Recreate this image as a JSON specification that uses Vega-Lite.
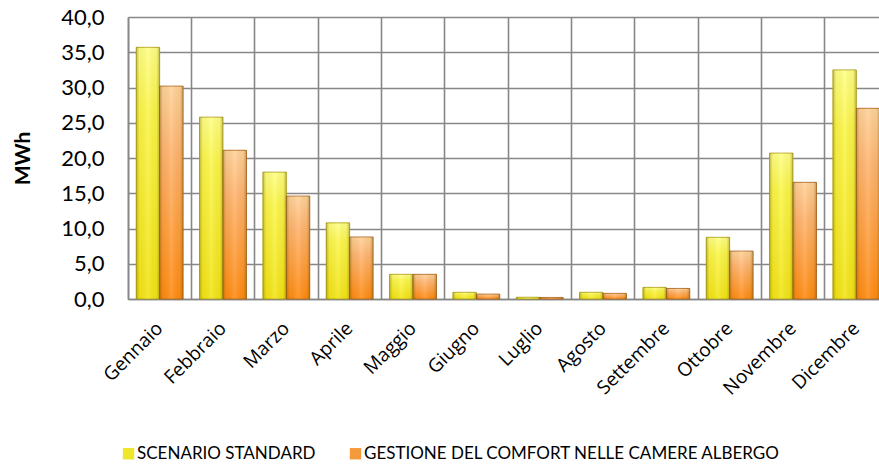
{
  "$schema": "https://vega.github.io/schema/vega-lite/v6.json",
  "autosize": "none",
  "width": 751,
  "height": 282,
  "padding": {"left": 128, "top": 17, "right": 0, "bottom": 168},
  "background": "white",
  "config": {
    "view": {"stroke": null},
    "axis": {"gridColor": "#878787", "gridWidth": 1.6, "gridOpacity": 1, "domainColor": "#878787", "domainWidth": 1.6}
  },
  "data": {
    "values": [
      {"mese": "Gennaio", "scenario": "SCENARIO STANDARD", "mwh": 35.7},
      {"mese": "Gennaio", "scenario": "GESTIONE DEL COMFORT NELLE CAMERE ALBERGO", "mwh": 30.2},
      {"mese": "Febbraio", "scenario": "SCENARIO STANDARD", "mwh": 25.8},
      {"mese": "Febbraio", "scenario": "GESTIONE DEL COMFORT NELLE CAMERE ALBERGO", "mwh": 21.1},
      {"mese": "Marzo", "scenario": "SCENARIO STANDARD", "mwh": 18.0},
      {"mese": "Marzo", "scenario": "GESTIONE DEL COMFORT NELLE CAMERE ALBERGO", "mwh": 14.6},
      {"mese": "Aprile", "scenario": "SCENARIO STANDARD", "mwh": 10.8},
      {"mese": "Aprile", "scenario": "GESTIONE DEL COMFORT NELLE CAMERE ALBERGO", "mwh": 8.8},
      {"mese": "Maggio", "scenario": "SCENARIO STANDARD", "mwh": 3.5},
      {"mese": "Maggio", "scenario": "GESTIONE DEL COMFORT NELLE CAMERE ALBERGO", "mwh": 3.5},
      {"mese": "Giugno", "scenario": "SCENARIO STANDARD", "mwh": 0.95},
      {"mese": "Giugno", "scenario": "GESTIONE DEL COMFORT NELLE CAMERE ALBERGO", "mwh": 0.7},
      {"mese": "Luglio", "scenario": "SCENARIO STANDARD", "mwh": 0.25},
      {"mese": "Luglio", "scenario": "GESTIONE DEL COMFORT NELLE CAMERE ALBERGO", "mwh": 0.22},
      {"mese": "Agosto", "scenario": "SCENARIO STANDARD", "mwh": 0.95},
      {"mese": "Agosto", "scenario": "GESTIONE DEL COMFORT NELLE CAMERE ALBERGO", "mwh": 0.8},
      {"mese": "Settembre", "scenario": "SCENARIO STANDARD", "mwh": 1.65},
      {"mese": "Settembre", "scenario": "GESTIONE DEL COMFORT NELLE CAMERE ALBERGO", "mwh": 1.5},
      {"mese": "Ottobre", "scenario": "SCENARIO STANDARD", "mwh": 8.75},
      {"mese": "Ottobre", "scenario": "GESTIONE DEL COMFORT NELLE CAMERE ALBERGO", "mwh": 6.8},
      {"mese": "Novembre", "scenario": "SCENARIO STANDARD", "mwh": 20.7},
      {"mese": "Novembre", "scenario": "GESTIONE DEL COMFORT NELLE CAMERE ALBERGO", "mwh": 16.55},
      {"mese": "Dicembre", "scenario": "SCENARIO STANDARD", "mwh": 32.5},
      {"mese": "Dicembre", "scenario": "GESTIONE DEL COMFORT NELLE CAMERE ALBERGO", "mwh": 27.05}
    ]
  },
  "encoding": {
    "x": {
      "field": "mese",
      "type": "nominal",
      "sort": null,
      "scale": {"range": [0, 760], "paddingInner": 0, "paddingOuter": 0},
      "axis": {
        "title": null,
        "bandPosition": 0,
        "grid": true,
        "ticks": false,
        "domain": true,
        "labelAngle": -45,
        "labelAlign": "right",
        "labelBaseline": "middle",
        "labelPadding": 26,
        "labelFont": "Open Sans",
        "labelFontSize": 19,
        "labelColor": "#000000",
        "labelOverlap": false
      }
    },
    "xOffset": {
      "field": "scenario",
      "type": "nominal",
      "sort": ["SCENARIO STANDARD", "GESTIONE DEL COMFORT NELLE CAMERE ALBERGO"],
      "scale": {"paddingInner": 0, "paddingOuter": 0.35}
    },
    "y": {
      "field": "mwh",
      "type": "quantitative",
      "scale": {"domain": [0, 40], "nice": false},
      "axis": {
        "title": "MWh",
        "titleFont": "Lato",
        "titleFontSize": 21,
        "titleFontWeight": "bold",
        "titleColor": "#000000",
        "titlePadding": 27,
        "values": [0, 5, 10, 15, 20, 25, 30, 35, 40],
        "labelExpr": "replace(format(datum.value, '.1f'), '.', ',')",
        "labelFont": "Lato",
        "labelFontSize": 22,
        "labelColor": "#000000",
        "labelPadding": 24,
        "labelOverlap": false,
        "ticks": false,
        "grid": true
      }
    }
  },
  "layer": [
    {
      "mark": {"type": "bar", "strokeWidth": 0},
      "encoding": {
        "color": {
          "field": "scenario",
          "type": "nominal",
          "sort": ["SCENARIO STANDARD", "GESTIONE DEL COMFORT NELLE CAMERE ALBERGO"],
          "scale": {"range": ["#eee62a", "#f59a3a"]},
          "legend": {
            "title": null,
            "orient": "none",
            "direction": "horizontal",
            "legendX": -8,
            "legendY": 428,
            "symbolType": "square",
            "symbolSize": 130,
            "symbolStrokeWidth": 0,
            "labelFont": "Lato",
            "labelFontSize": 17,
            "labelColor": "#000000",
            "labelOffset": 0,
            "labelLimit": 600,
            "columnPadding": 31
          }
        }
      }
    },
    {
      "transform": [{"filter": "datum.scenario === 'SCENARIO STANDARD'"}],
      "mark": {
        "type": "bar",
        "stroke": "#a89c18",
        "strokeWidth": 0.8,
        "fill": {
          "gradient": "linear", "x1": 0, "y1": 0, "x2": 0, "y2": 1,
          "stops": [
            {"offset": 0, "color": "#ffff86"},
            {"offset": 0.25, "color": "#fbf64a"},
            {"offset": 1, "color": "#f2e414"}
          ]
        }
      }
    },
    {
      "transform": [{"filter": "datum.scenario !== 'SCENARIO STANDARD'"}],
      "mark": {
        "type": "bar",
        "stroke": "#a8621c",
        "strokeWidth": 0.8,
        "fill": {
          "gradient": "linear", "x1": 0, "y1": 0, "x2": 0, "y2": 1,
          "stops": [
            {"offset": 0, "color": "#ffd29a"},
            {"offset": 0.3, "color": "#ffb470"},
            {"offset": 1, "color": "#ff8a10"}
          ]
        }
      }
    },
    {
      "mark": {
        "type": "bar",
        "strokeWidth": 0,
        "fill": {
          "gradient": "linear", "x1": 0, "y1": 0, "x2": 1, "y2": 0,
          "stops": [
            {"offset": 0, "color": "rgba(90,70,0,0.35)"},
            {"offset": 0.14, "color": "rgba(90,70,0,0.05)"},
            {"offset": 0.5, "color": "rgba(255,255,255,0.12)"},
            {"offset": 0.86, "color": "rgba(90,70,0,0.05)"},
            {"offset": 1, "color": "rgba(90,70,0,0.35)"}
          ]
        }
      }
    }
  ]
}
